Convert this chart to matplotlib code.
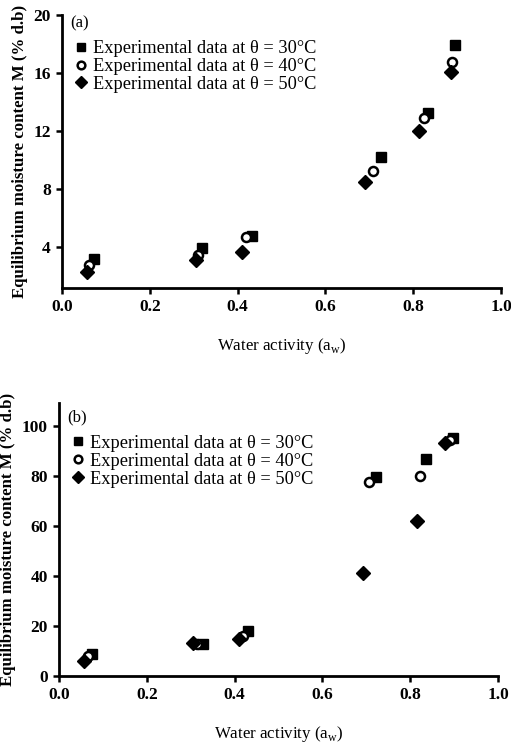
import matplotlib
matplotlib.use("Agg")
import matplotlib.pyplot as plt

# Panel (a) data
aw_a_30 = [0.073, 0.32, 0.433, 0.727, 0.834, 0.895]
M_a_30 = [3.17, 3.93, 4.76, 10.2, 13.25, 17.9]
aw_a_40 = [0.062, 0.31, 0.42, 0.709, 0.825, 0.889]
M_a_40 = [2.76, 3.5, 4.7, 9.24, 12.9, 16.76]
aw_a_50 = [0.057, 0.305, 0.41, 0.69, 0.814, 0.885]
M_a_50 = [2.28, 3.1, 3.66, 8.5, 12.0, 16.1]

# Panel (b) data
aw_b_30 = [0.075, 0.328, 0.43, 0.722, 0.836, 0.898]
M_b_30 = [8.8, 12.8, 18.0, 79.6, 86.8, 95.2]
aw_b_40 = [0.065, 0.315, 0.42, 0.706, 0.822, 0.89]
M_b_40 = [7.8, 12.9, 16.0, 77.6, 80.0, 94.4]
aw_b_50 = [0.057, 0.305, 0.41, 0.692, 0.816, 0.88]
M_b_50 = [6.0, 13.0, 14.8, 41.2, 62.0, 93.2]

labels = ["Experimental data at \u03b8 = 30\u00b0C",
          "Experimental data at \u03b8 = 40\u00b0C",
          "Experimental data at \u03b8 = 50\u00b0C"]

plt.rcParams['font.family'] = ['Liberation Serif', 'DejaVu Serif']

W, H = 511, 746
fig = plt.figure(figsize=(W / 100, H / 100), dpi=100)

def make_ax(l, r, t, b):
    return fig.add_axes([l / W, 1 - b / H, (r - l) / W, (b - t) / H])

ax1 = make_ax(62, 501, 15, 288)
ax2 = make_ax(59, 498, 403, 676)

def style(ax, data, ylim, yticks, tag, tag_y, leg_y):
    (x30, y30), (x40, y40), (x50, y50) = data
    ax.plot(x30, y30, 's', color='black', ms=7.5, ls='none', label=labels[0], zorder=3)
    ax.plot(x40, y40, 'o', mfc='white', mec='black', mew=1.8, ms=6.5, ls='none', label=labels[1], zorder=4)
    ax.plot(x50, y50, 'D', color='black', ms=7, ls='none', label=labels[2], zorder=5)
    ax.set_xlim(0, 1.0)
    ax.set_ylim(*ylim)
    ax.set_xticks([0.0, 0.2, 0.4, 0.6, 0.8, 1.0])
    ax.set_xticklabels(['0.0', '0.2', '0.4', '0.6', '0.8', '1.0'])
    ax.set_yticks(yticks)
    for s in ['top', 'right']:
        ax.spines[s].set_visible(False)
    for s in ['left', 'bottom']:
        ax.spines[s].set_linewidth(2.0)
    ax.tick_params(direction='out', length=4, width=1.8, labelsize=12.5, pad=4)
    for lab in ax.get_xticklabels() + ax.get_yticklabels():
        lab.set_fontweight('bold')
    ax.set_xlabel('Water activity (a$_\\mathregular{w}$)', fontsize=12.2, labelpad=15)
    ax.set_ylabel('Equilibrium moisture content M (% d.b)', fontsize=12.1, fontweight='bold', labelpad=4)
    ax.text(0.018, tag_y, tag, transform=ax.transAxes, fontsize=12, va='center', ha='left')
    ax.legend(loc='upper left', bbox_to_anchor=(0.015, leg_y), frameon=False, fontsize=13.2,
              handlelength=0.6, handletextpad=0.35, labelspacing=0.05, borderaxespad=0.2,
              borderpad=0.2, markerscale=0.85)

style(ax1, [(aw_a_30, M_a_30), (aw_a_40, M_a_40), (aw_a_50, M_a_50)], (1.2, 20), [4, 8, 12, 16, 20], '(a)',
      1 - 8 / 273, 0.935)
style(ax2, [(aw_b_30, M_b_30), (aw_b_40, M_b_40), (aw_b_50, M_b_50)], (0, 109), [0, 20, 40, 60, 80, 100], '(b)',
      1 - 14 / 273, 0.91)

fig.savefig('out.png', dpi=100)
